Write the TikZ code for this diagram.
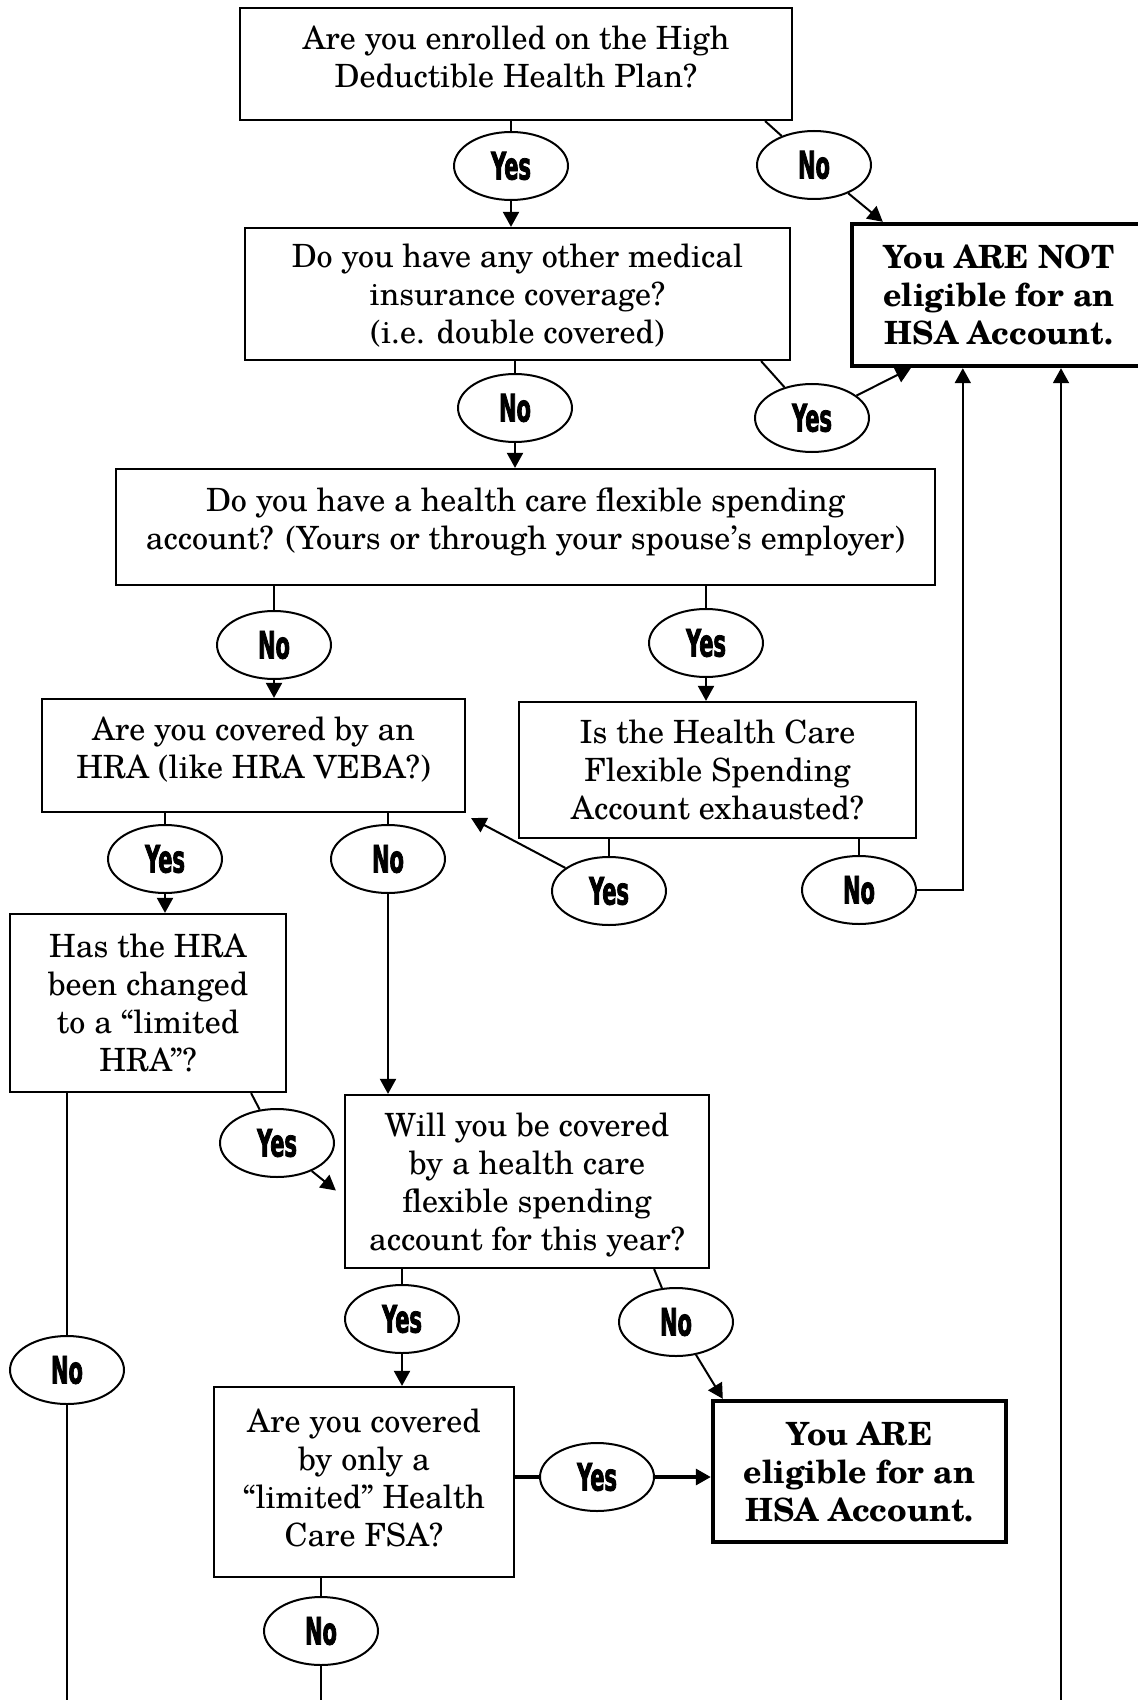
\documentclass[tikz,border=0pt]{standalone}
\usepackage{fontspec}
\setmainfont{TeX Gyre Schola}
\newfontfamily\ynfont[FakeStretch=0.55, FakeBold=2]{DejaVu Sans}
\usetikzlibrary{arrows.meta, calc, shapes.geometric}

\begin{document}
\begin{tikzpicture}[x=0.5pt, y=-0.5pt, line width=1pt,
    qbox/.style={draw, line width=1.1pt, align=center, inner sep=0pt, font=\fontsize{16}{19}\selectfont},
    endbox/.style={qbox, line width=2.2pt, font=\fontsize{16}{19}\selectfont\bfseries},
    yn/.style={draw, ellipse, minimum width=57pt, minimum height=34pt, inner sep=0pt, font=\fontsize{19}{19}\ynfont\bfseries},
    go/.style={-{Triangle[length=7.5pt, width=8pt]}}]
\clip (0,0) rectangle (1138,1700);

\node[qbox, minimum width=276pt, minimum height=56pt, text depth=7pt] (q1) at (516,64) {Are you enrolled on the High\\Deductible Health Plan?};
\node[qbox, minimum width=272.5pt, minimum height=66pt, text depth=0pt] (q2) at (517.5,294) {Do you have any other medical\\insurance coverage?\\(i.e. double covered)};
\node[endbox, minimum width=147pt, minimum height=71pt] (ne) at (999,295) {You ARE NOT\\eligible for an\\HSA Account.};
\node[qbox, minimum width=409.5pt, minimum height=58pt, text depth=8pt] (q3) at (525.5,527) {Do you have a health care flexible spending\\account? (Yours or through your spouse’s employer)};
\node[qbox, minimum width=211.5pt, minimum height=56.5pt, text depth=8pt] (q4) at (253.5,755.5) {Are you covered by an\\HRA (like HRA VEBA?)};
\node[qbox, minimum width=198.5pt, minimum height=68pt] (q5) at (717.5,770) {Is the Health Care\\Flexible Spending\\Account exhausted?};
\node[qbox, minimum width=138pt, minimum height=89pt] (q6) at (148,1003) {Has the HRA\\been changed\\to a “limited\\HRA”?};
\node[qbox, minimum width=182pt, minimum height=86.5pt, text depth=0pt] (q7) at (527,1181.5) {Will you be covered\\by a health care\\flexible spending\\account for this year?};
\node[qbox, minimum width=150pt, minimum height=95pt, text depth=4pt] (q8) at (364,1482) {Are you covered\\by only a\\“limited” Health\\Care FSA?};
\node[endbox, minimum width=146.5pt, minimum height=70.5pt] (el) at (859.5,1471.5) {You ARE\\eligible for an\\HSA Account.};

\node[yn] (y1) at (511,166) {Yes};
\node[yn] (n1) at (814,165) {No};
\node[yn] (n2) at (515,408) {No};
\node[yn] (y2) at (812,418) {Yes};
\node[yn] (n3) at (274,645) {No};
\node[yn] (y3) at (706,643) {Yes};
\node[yn] (y4) at (165,859) {Yes};
\node[yn] (n4) at (388,859) {No};
\node[yn] (y5) at (609,891) {Yes};
\node[yn] (n5) at (859,890) {No};
\node[yn] (y6) at (277,1143) {Yes};
\node[yn] (n6) at (67,1370) {No};
\node[yn] (y7) at (402,1319) {Yes};
\node[yn] (n7) at (676,1322) {No};
\node[yn] (y8) at (597,1477) {Yes};
\node[yn] (n8) at (321,1631) {No};

\coordinate (lbot) at (67,1710);
\coordinate (mbot) at (321,1710);
\coordinate (rbot) at (1061,1710);

\draw (y1 |- q1.south) -- (y1);
\draw[go] (y1) -- (y1 |- q2.north);
\draw ($(q1.south east)+(-28,0)$) -- (n1);
\draw[go] (n1) -- ($(ne.north west)+(33,0)$);
\draw (n2 |- q2.south) -- (n2);
\draw[go] (n2) -- (n2 |- q3.north);
\draw ($(q2.south east)+(-30,0)$) -- (y2);
\draw[go] (y2) -- ($(ne.south west)+(61,0)$);
\draw (n3 |- q3.south) -- (n3);
\draw[go] (n3) -- (n3 |- q4.north);
\draw (y3 |- q3.south) -- (y3);
\draw[go] (y3) -- (y3 |- q5.north);
\draw (y4 |- q4.south) -- (y4);
\draw[go] (y4) -- (y4 |- q6.north);
\draw (n4 |- q4.south) -- (n4);
\draw[go] (n4) -- (n4 |- q7.north);
\draw (y5 |- q5.south) -- (y5);
\draw[go] (y5) -- ($(q4.south east)+(5,5)$);
\draw (n5 |- q5.south) -- (n5);
\draw[go] (n5) -| ($(ne.south west)+(113,0)$);
\draw[go] (rbot) -- (rbot |- ne.south);
\draw ($(q6.south east)+(-36,0)$) -- (y6);
\draw[go] (y6) -- ($(q7.west)+(-8,9)$);
\draw (n6 |- q6.south) -- (n6);
\draw (n6) -- (lbot);
\draw (y7 |- q7.south) -- (y7);
\draw[go] (y7) -- (y7 |- q8.north);
\draw ($(q7.south east)+(-56,0)$) -- (n7);
\draw[go] (n7) -- ($(el.north west)+(12,0)$);
\draw[line width=1.6pt] (q8.east |- y8) -- (y8);
\draw[go, line width=1.6pt] (y8) -- (el.west |- y8);
\draw (n8 |- q8.south) -- (n8);
\draw (n8) -- (mbot);
\end{tikzpicture}
\end{document}
